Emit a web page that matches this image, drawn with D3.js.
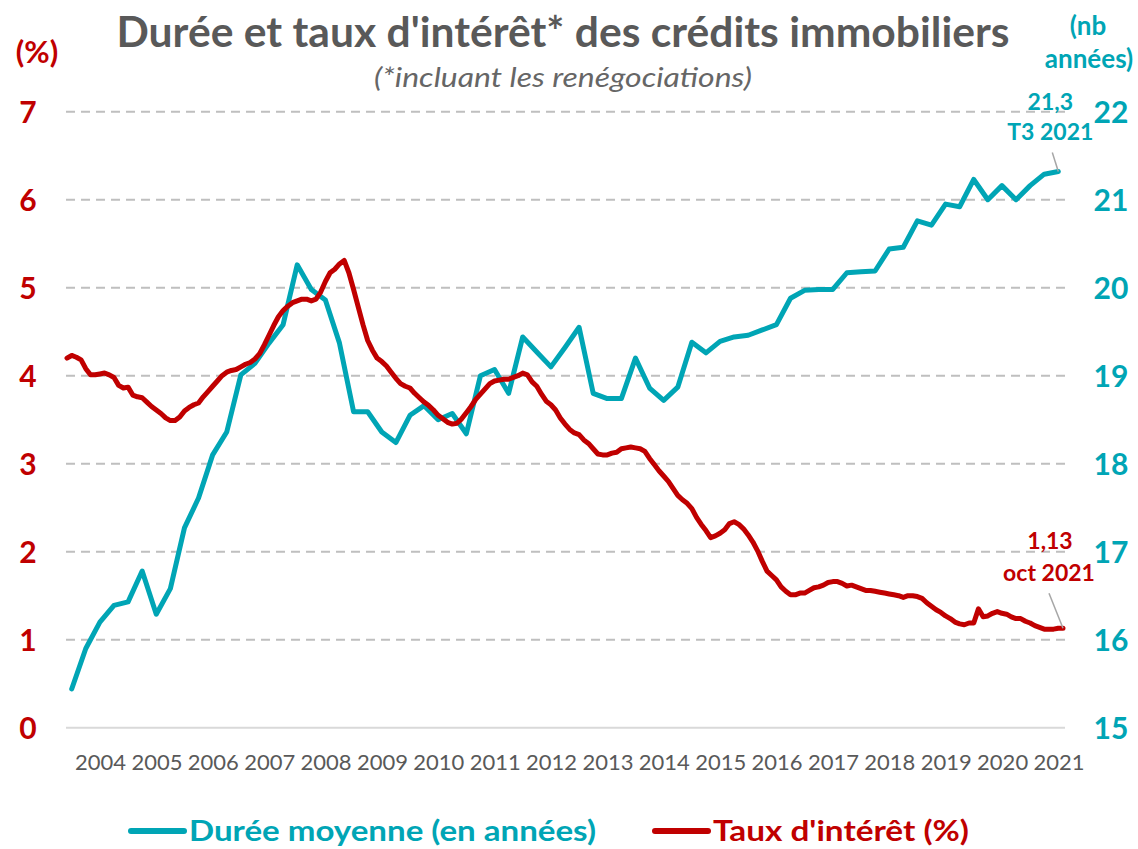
<!DOCTYPE html>
<html lang="fr">
    <head>
        <meta charset="utf-8">
        <title>Durée et taux d'intérêt des crédits immobiliers</title>
        <script type="text/javascript" src="https://d3js.org/d3.v7.min.js"></script>
        <style type="text/css">
            body { margin: 0; background: #fff; }
            svg text { font-family: Lato, "Open Sans", sans-serif; }
        </style>
    </head>
    <body>
        <script type="text/javascript">

            // ---- Données ----

            // Années affichées sous l'axe
            var annees = [2004, 2005, 2006, 2007, 2008, 2009, 2010, 2011, 2012,
                          2013, 2014, 2015, 2016, 2017, 2018, 2019, 2020, 2021];

            // Graduations des deux axes verticaux
            var ticksTaux = [0, 1, 2, 3, 4, 5, 6, 7];
            var ticksDuree = [15, 16, 17, 18, 19, 20, 21, 22];

            // Durée moyenne (en années), trimestrielle, de T1 2004 à T3 2021
            var dureeDebut = 2004;
            var dureeMoyenne = [
                15.44, 15.90, 16.20, 16.39,   // 2004
                16.43, 16.78, 16.29, 16.58,   // 2005
                17.27, 17.61, 18.10, 18.36,   // 2006
                19.01, 19.14, 19.37, 19.58,   // 2007
                20.26, 19.98, 19.86, 19.37,   // 2008
                18.59, 18.59, 18.36, 18.24,   // 2009
                18.55, 18.66, 18.50, 18.57,   // 2010
                18.34, 19.00, 19.07, 18.80,   // 2011
                19.44, 19.27, 19.10, 19.32,   // 2012
                19.55, 18.80, 18.74, 18.74,   // 2013
                19.20, 18.86, 18.72, 18.87,   // 2014
                19.38, 19.26, 19.39, 19.44,   // 2015
                19.46, 19.52, 19.58, 19.88,   // 2016
                19.97, 19.98, 19.98, 20.17,   // 2017
                20.18, 20.19, 20.44, 20.46,   // 2018
                20.76, 20.71, 20.95, 20.92,   // 2019
                21.23, 21.00, 21.16, 21.00,   // 2020
                21.16, 21.29, 21.32           // 2021
            ];

            // Taux d'intérêt (%), mensuel, de février 2004 à octobre 2021
            var tauxDebut = [2004, 2];
            var tauxInteret = [
                4.20, 4.23, 4.21, 4.18, 4.08, 4.01, 4.01, 4.02, 4.03, 4.01, 3.98,          // 2004
                3.89, 3.86, 3.87, 3.78, 3.76, 3.75, 3.70, 3.65, 3.61, 3.57, 3.52, 3.49,    // 2005
                3.49, 3.53, 3.60, 3.64, 3.67, 3.69, 3.76, 3.82, 3.88, 3.94, 4.00, 4.04,    // 2006
                4.06, 4.07, 4.10, 4.13, 4.15, 4.19, 4.25, 4.35, 4.46, 4.57, 4.67, 4.74,    // 2007
                4.79, 4.83, 4.85, 4.87, 4.87, 4.85, 4.87, 4.95, 5.07, 5.17, 5.21, 5.27,    // 2008
                5.31, 5.17, 4.98, 4.78, 4.58, 4.40, 4.29, 4.20, 4.16, 4.11, 4.04, 3.97,    // 2009
                3.91, 3.88, 3.86, 3.80, 3.75, 3.70, 3.66, 3.61, 3.55, 3.51, 3.47, 3.45,    // 2010
                3.46, 3.51, 3.58, 3.65, 3.73, 3.79, 3.85, 3.91, 3.94, 3.95, 3.96, 3.96,    // 2011
                3.98, 4.00, 4.03, 4.01, 3.93, 3.88, 3.79, 3.71, 3.67, 3.61, 3.52, 3.45,    // 2012
                3.39, 3.35, 3.33, 3.27, 3.23, 3.17, 3.11, 3.10, 3.10, 3.12, 3.13, 3.17,    // 2013
                3.18, 3.19, 3.18, 3.17, 3.14, 3.06, 2.99, 2.92, 2.86, 2.80, 2.72, 2.64,    // 2014
                2.59, 2.55, 2.49, 2.39, 2.31, 2.24, 2.16, 2.18, 2.21, 2.25, 2.32, 2.34,    // 2015
                2.31, 2.26, 2.19, 2.11, 2.01, 1.89, 1.78, 1.73, 1.68, 1.60, 1.55, 1.51,    // 2016
                1.51, 1.53, 1.53, 1.56, 1.59, 1.60, 1.62, 1.65, 1.66, 1.66, 1.64, 1.61,    // 2017
                1.62, 1.60, 1.58, 1.56, 1.56, 1.55, 1.54, 1.53, 1.52, 1.51, 1.50, 1.48,    // 2018
                1.50, 1.50, 1.49, 1.47, 1.42, 1.38, 1.34, 1.31, 1.27, 1.24, 1.20, 1.18,    // 2019
                1.17, 1.19, 1.19, 1.35, 1.26, 1.27, 1.30, 1.32, 1.30, 1.29, 1.26, 1.24,    // 2020
                1.24, 1.21, 1.19, 1.16, 1.14, 1.12, 1.12, 1.12, 1.13, 1.13                 // 2021
            ];

            // ---- Mise en page ----
            var w = 1138;
            var h = 849;
            var plotLeft = 66, plotRight = 1065;

            var teal = "#00A5B5";
            var red = "#C00000";
            var grey = "#595959";

            var fr = d3.formatLocale({decimal: ",", thousands: " ", grouping: [3], currency: ["", " €"]});

            var svg = d3.select("body")
                        .append("svg")
                        .attr("width", w)
                        .attr("height", h);

            // Temps en années décimales
            var xScale = d3.scaleLinear()
                           .domain([2004 + 1 / 12, 2021 + 9 / 12])
                           .range([67, 1063]);

            var yTaux = d3.scaleLinear().domain([0, 7]).range([727.7, 111.7]);
            var yDuree = d3.scaleLinear().domain([15, 22]).range([727.7, 111.7]);

            var dureePoints = dureeMoyenne.map(function(v, i) {
                return {t: dureeDebut + i / 4 + 1 / 6, v: v};
            });
            var tauxPoints = tauxInteret.map(function(v, i) {
                return {t: tauxDebut[0] + (tauxDebut[1] - 1) / 12 + i / 12, v: v};
            });

            // Grille horizontale
            svg.append("g")
               .selectAll("line")
               .data(ticksTaux)
               .enter()
               .append("line")
               .attr("x1", plotLeft)
               .attr("x2", plotRight)
               .attr("y1", function(d) { return yTaux(d); })
               .attr("y2", function(d) { return yTaux(d); })
               .attr("stroke", function(d) { return d === 0 ? "#D9D9D9" : "#BFBFBF"; })
               .attr("stroke-width", 2)
               .attr("stroke-dasharray", function(d) { return d === 0 ? null : "9,6"; });

            // Axe gauche (taux)
            var yAxisL = d3.axisLeft(yTaux).tickValues(ticksTaux).tickSize(0).tickFormat(d3.format("d"));
            var gL = svg.append("g")
               .attr("transform", "translate(38,0)")
               .call(yAxisL);
            gL.select(".domain").remove();
            gL.selectAll("text")
              .attr("x", -10)
              .attr("dy", "0.36em")
              .attr("text-anchor", "middle")
              .attr("fill", red)
              .style("font-size", "30px")
              .style("font-weight", "bold");

            // Axe droit (durée)
            var yAxisR = d3.axisRight(yDuree).tickValues(ticksDuree).tickSize(0).tickFormat(d3.format("d"));
            var gR = svg.append("g")
               .attr("transform", "translate(1095,0)")
               .call(yAxisR);
            gR.select(".domain").remove();
            gR.selectAll("text")
              .attr("x", 16)
              .attr("dy", "0.36em")
              .attr("text-anchor", "middle")
              .attr("fill", teal)
              .style("font-size", "30px")
              .style("font-weight", "bold");

            // Axe des années
            var xAxis = d3.axisBottom(xScale)
                          .tickValues(annees.map(function(a) { return a + 0.67; }))
                          .tickSize(0)
                          .tickFormat(function(d) { return Math.floor(d); });
            var gX = svg.append("g")
               .attr("transform", "translate(0,727.7)")
               .call(xAxis);
            gX.select(".domain").remove();
            gX.selectAll("text")
              .attr("y", 42)
              .attr("dy", 0)
              .attr("fill", grey)
              .style("font-size", "22px");

            // Courbes
            var ligne = function(yS) {
                return d3.line()
                         .x(function(d) { return xScale(d.t); })
                         .y(function(d) { return yS(d.v); });
            };

            svg.append("path")
               .datum(dureePoints)
               .attr("d", ligne(yDuree))
               .attr("fill", "none")
               .attr("stroke", teal)
               .attr("stroke-width", 5)
               .attr("stroke-linejoin", "round")
               .attr("stroke-linecap", "round");

            svg.append("path")
               .datum(tauxPoints)
               .attr("d", ligne(yTaux))
               .attr("fill", "none")
               .attr("stroke", red)
               .attr("stroke-width", 5)
               .attr("stroke-linejoin", "round")
               .attr("stroke-linecap", "round");

            // Étiquettes de fin de série
            var lastD = dureePoints[dureePoints.length - 1];
            var lastT = tauxPoints[tauxPoints.length - 1];
            var xd = xScale(lastD.t), yd = yDuree(lastD.v);
            var xt = xScale(lastT.t), yt = yTaux(lastT.v);

            svg.append("line")
               .attr("x1", xd - 6).attr("y1", yd - 19)
               .attr("x2", xd).attr("y2", yd)
               .attr("stroke", "#A6A6A6").attr("stroke-width", 1.5);
            svg.append("text")
               .attr("x", xd - 8).attr("y", yd - 62)
               .attr("text-anchor", "middle")
               .attr("fill", teal)
               .style("font-size", "23px").style("font-weight", "bold")
               .text(fr.format(".1f")(lastD.v));
            svg.append("text")
               .attr("x", xd - 8).attr("y", yd - 32)
               .attr("text-anchor", "middle")
               .attr("fill", teal)
               .style("font-size", "23px").style("font-weight", "bold")
               .text("T3 2021");

            svg.append("line")
               .attr("x1", xt - 14).attr("y1", yt - 35)
               .attr("x2", xt).attr("y2", yt)
               .attr("stroke", "#A6A6A6").attr("stroke-width", 1.5);
            svg.append("text")
               .attr("x", xt - 13).attr("y", yt - 79)
               .attr("text-anchor", "middle")
               .attr("fill", red)
               .style("font-size", "23px").style("font-weight", "bold")
               .text(fr.format(".2f")(lastT.v));
            svg.append("text")
               .attr("x", xt - 14).attr("y", yt - 47)
               .attr("text-anchor", "middle")
               .attr("fill", red)
               .style("font-size", "23px").style("font-weight", "bold")
               .text("oct 2021");

            // Titres
            svg.append("text")
               .attr("x", 563).attr("y", 47)
               .attr("text-anchor", "middle")
               .attr("fill", grey)
               .attr("textLength", 893)
               .attr("lengthAdjust", "spacingAndGlyphs")
               .style("font-size", "42px").style("font-weight", "bold")
               .text("Durée et taux d'intérêt* des crédits immobiliers");

            svg.append("text")
               .attr("x", 563).attr("y", 87)
               .attr("text-anchor", "middle")
               .attr("fill", "#666666")
               .attr("textLength", 378)
               .attr("lengthAdjust", "spacingAndGlyphs")
               .style("font-size", "27px").style("font-style", "italic")
               .text("(*incluant les renégociations)");

            svg.append("text")
               .attr("x", 37).attr("y", 63)
               .attr("text-anchor", "middle")
               .attr("fill", red)
               .style("font-size", "31px").style("font-weight", "bold")
               .text("(%)");

            svg.append("text")
               .attr("x", 1088).attr("y", 35)
               .attr("text-anchor", "middle")
               .attr("fill", teal)
               .style("font-size", "26px").style("font-weight", "bold")
               .text("(nb");
            svg.append("text")
               .attr("x", 1089).attr("y", 68)
               .attr("text-anchor", "middle")
               .attr("fill", teal)
               .style("font-size", "26px").style("font-weight", "bold")
               .text("années)");

            // Légende
            var legende = [
                {label: "Durée moyenne (en années)", color: teal, x: 131, len: 407},
                {label: "Taux d'intérêt (%)", color: red, x: 655, len: 256}
            ];
            var lg = svg.append("g").selectAll("g")
                        .data(legende)
                        .enter()
                        .append("g");
            lg.append("line")
              .attr("x1", function(d) { return d.x; })
              .attr("x2", function(d) { return d.x + 53; })
              .attr("y1", 831).attr("y2", 831)
              .attr("stroke", function(d) { return d.color; })
              .attr("stroke-width", 6)
              .attr("stroke-linecap", "round");
            lg.append("text")
              .attr("x", function(d) { return d.x + 58; })
              .attr("y", 841)
              .attr("fill", function(d) { return d.color; })
              .attr("textLength", function(d) { return d.len; })
              .attr("lengthAdjust", "spacingAndGlyphs")
              .style("font-size", "29px").style("font-weight", "bold")
              .text(function(d) { return d.label; });

        </script>
    </body>
</html>
